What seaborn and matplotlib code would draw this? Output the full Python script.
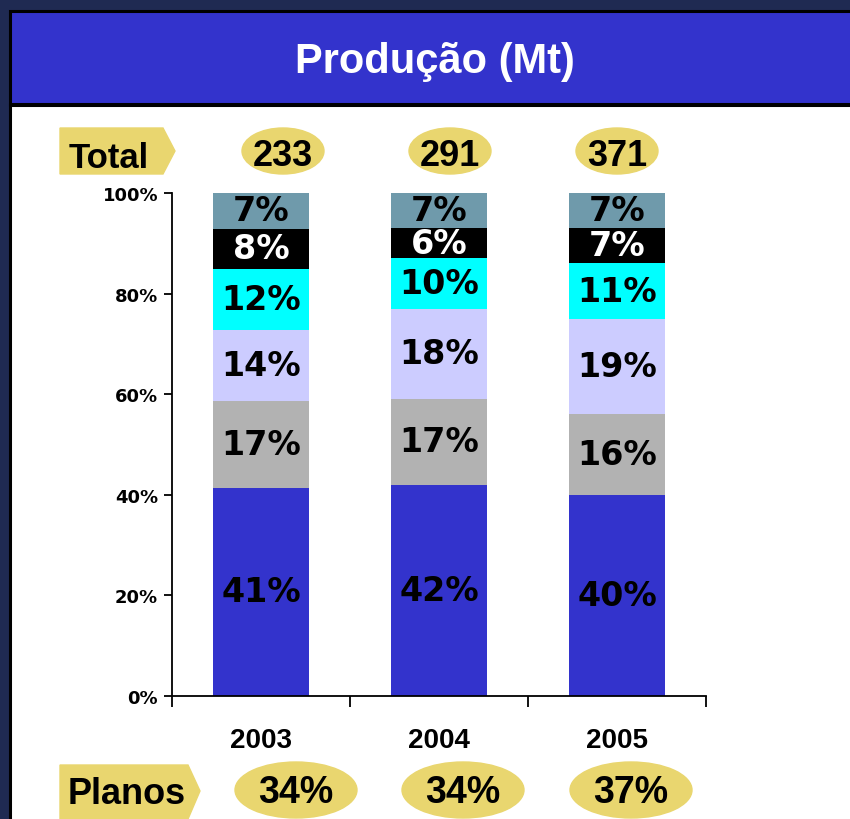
import numpy as np
import seaborn as sns
import matplotlib
matplotlib.use("Agg")
import matplotlib.pyplot as plt
from matplotlib.patches import Rectangle, Ellipse, Polygon

# dados
anos = ['2003', '2004', '2005']
# participacao de cada segmento (%), de baixo para cima
seg_azul = [41, 42, 40]
seg_cinza = [17, 17, 16]
seg_lilas = [14, 18, 19]
seg_ciano = [12, 10, 11]
seg_preto = [8, 6, 7]
seg_ardosia = [7, 7, 7]
totais = ['233', '291', '371']
planos = ['34%', '34%', '37%']
yticks = [0, 20, 40, 60, 80, 100]

segmentos = [seg_azul, seg_cinza, seg_lilas, seg_ciano, seg_preto, seg_ardosia]
cores = ['#3333cc', '#b2b2b2', '#ccccff', '#00ffff', '#000000', '#6f9aab']
cor_texto = ['black', 'black', 'black', 'black', 'white', 'black']

sns.set_theme(style='white')
plt.rcParams['font.family'] = ['DejaVu Sans']
plt.rcParams['text.color'] = 'black'
plt.rcParams['xtick.color'] = 'black'
plt.rcParams['ytick.color'] = 'black'
plt.rcParams['axes.labelcolor'] = 'black'

fig = plt.figure(figsize=(8.5, 8.2), dpi=100)

# fundo, barra de titulo e painel branco (coordenadas em pixels)
bg = fig.add_axes([0, 0, 1, 1], zorder=0)
bg.set_xlim(0, 850)
bg.set_ylim(820, 0)
bg.axis('off')
bg.add_patch(Rectangle((0, 0), 850, 820, color='#1f2a52'))
bg.add_patch(Rectangle((10.5, 106), 845, 720, facecolor='white', edgecolor='black', lw=2.2))
bg.add_patch(Rectangle((10.5, 11.5), 845, 93, facecolor='#3333cc', edgecolor='black', lw=2.2))
bg.text(435, 62, 'Produção (Mt)', color='white', fontsize=30, fontweight='bold',
        family='Liberation Sans', ha='center', va='center')

amarelo = '#e9d66f'
bg.add_patch(Polygon([(60, 129), (163, 129), (175, 152), (163, 175), (60, 175)], color=amarelo))
bg.text(69, 158, 'Total', fontsize=25, fontweight='bold', family='Liberation Sans',
        ha='left', va='center')
for xc, t in zip([283, 450, 617], totais):
    bg.add_patch(Ellipse((xc, 152), 82, 46, color=amarelo))
    bg.text(xc, 156, t, fontsize=26, fontweight='bold', family='Liberation Sans',
            ha='center', va='center')

bg.add_patch(Polygon([(60, 766), (188, 766), (200, 792), (188, 820), (60, 820)], color=amarelo))
bg.text(68, 795, 'Planos', fontsize=26, fontweight='bold', family='Liberation Sans',
        ha='left', va='center')
for xc, t in zip([296, 463, 631], planos):
    bg.add_patch(Ellipse((xc, 791), 122, 56, color=amarelo))
    bg.text(xc, 793, t, fontsize=27, fontweight='bold', family='Liberation Sans',
            ha='center', va='center')

# grafico de barras empilhadas
ax = fig.add_axes([172 / 850, 123 / 820, 534 / 850, 503 / 820], zorder=1)
ax.patch.set_alpha(0)

dados = np.array(segmentos, dtype=float)
dados = dados / dados.sum(axis=0) * 100
topos = np.cumsum(dados, axis=0)
bases = topos - dados

# desenha do topo para baixo, cada camada sobrepondo a anterior
for k in range(len(segmentos) - 1, -1, -1):
    sns.barplot(x=anos, y=topos[k], color=cores[k], saturation=1, width=0.54,
                linewidth=0, edgecolor='none', ax=ax)

for k in range(len(segmentos)):
    for i in range(len(anos)):
        ax.text(i, bases[k, i] + dados[k, i] / 2, f'{segmentos[k][i]}%',
                color=cor_texto[k], fontsize=24, fontweight='bold',
                ha='center', va='center')

ax.set_xlim(-0.5, 2.5)
ax.set_ylim(0, 100)
ax.set_yticks(yticks)
ax.set_yticklabels([f'{v}%' for v in yticks], fontsize=13, fontweight='bold')
ax.set_xticks(range(len(anos)))
ax.set_xticklabels(anos, fontsize=20, fontweight='bold', family='Liberation Sans')
ax.set_xticks([-0.5, 0.5, 1.5, 2.5], minor=True)
ax.tick_params(axis='x', which='major', length=0, pad=22)
ax.tick_params(axis='x', which='minor', length=8, width=1.3, color='black', direction='out', bottom=True)
ax.tick_params(axis='y', length=6, width=1.3, color='black', direction='out', left=True, pad=4)
ax.set_xlabel('')
ax.set_ylabel('')
for s in ['top', 'right']:
    ax.spines[s].set_visible(False)
for s in ['left', 'bottom']:
    ax.spines[s].set_color('black')
    ax.spines[s].set_linewidth(1.3)

fig.savefig('out.png', dpi=100)
